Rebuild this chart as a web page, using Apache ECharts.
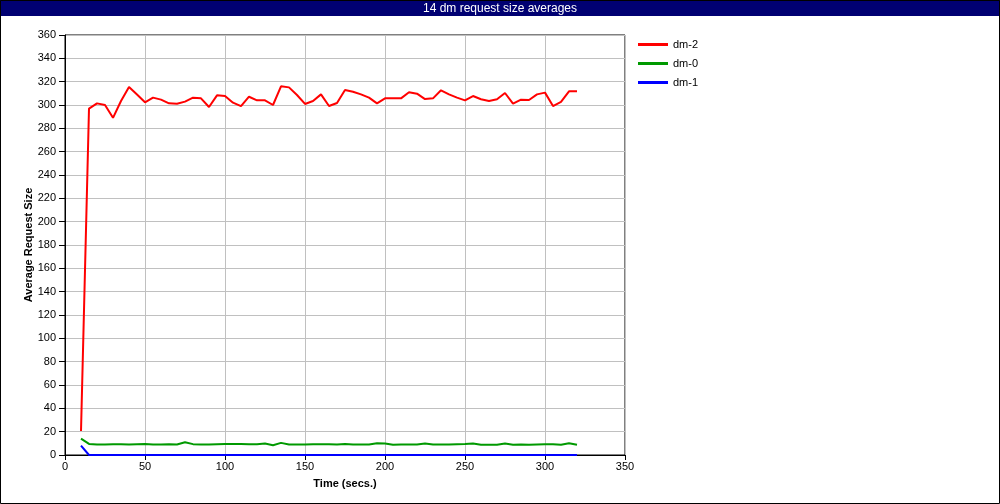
<!DOCTYPE html>
<html>
<head>
<meta charset="utf-8">
<script src="https://cdn.jsdelivr.net/npm/echarts@6/dist/echarts.min.js"></script>
<style>
html,body{margin:0;padding:0;background:#fff;}
#c{width:1000px;height:504px;}
</style>
</head>
<body>
<div id="c"></div>
<script>
var titleText = "14 dm request size averages";
var xName = "Time (secs.)";
var yName = "Average Request Size";
var seriesNames = ["dm-2", "dm-0", "dm-1"];
var times = [10,15,20,25,30,35,40,45,50,55,60,65,70,75,80,85,90,95,100,105,110,115,120,125,130,135,140,145,150,155,160,165,170,175,180,185,190,195,200,205,210,215,220,225,230,235,240,245,250,255,260,265,270,275,280,285,290,295,300,305,310,315,320];
var dm2 = [20.5,296.9,301.4,300,289,303.4,315.4,309,302.3,306.3,304.6,301.4,301,302.9,306.3,305.7,298.3,308.3,307.7,302,299.1,307.1,304,304,300,316,315.1,308.6,300.9,303.4,309.1,299.1,301.7,312.9,311.4,309.1,306.3,301.4,305.7,305.7,305.7,310.9,309.7,305.1,305.7,312.6,309.1,306.3,304,307.7,304.9,303.4,304.9,310.3,301.1,304.6,304.3,309.1,310.6,299.1,302.6,311.7,311.7];
var dm0 = [14,9.5,9,9,9.3,9.3,9,9.3,9.5,9,9,9.3,9,11,9.3,9,9,9.3,9.5,9.5,9.5,9.3,9.3,9.8,8.4,10.4,9,9,9,9.3,9.3,9.3,9,9.5,9,9,9,10,9.8,8.7,9,9,9,9.8,9,9,9,9.3,9.5,9.8,8.7,8.7,8.7,9.8,8.7,9,8.7,9,9.3,9.3,8.7,10,8.7];
var dm1 = [8,0,0,0,0,0,0,0,0,0,0,0,0,0,0,0,0,0,0,0,0,0,0,0,0,0,0,0,0,0,0,0,0,0,0,0,0,0,0,0,0,0,0,0,0,0,0,0,0,0,0,0,0,0,0,0,0,0,0,0,0,0,0];
var colors = ["#ff0000", "#009900", "#0000ff"];

function pairs(xs, ys){ return xs.map(function(x,i){ return [x, ys[i]]; }); }

var font = "'Liberation Sans', Arial, sans-serif";
var chart = echarts.init(document.getElementById('c'), null, {renderer:'canvas'});
chart.setOption({
  animation:false,
  backgroundColor:'#fff',
  textStyle:{fontFamily:font},
  graphic:[
    {type:'rect', shape:{x:0,y:0,width:1000,height:16}, style:{fill:'#000072'}, z:0},
    {type:'rect', shape:{x:0.5,y:0.5,width:999,height:503}, style:{fill:null, stroke:'#000', lineWidth:1}, z:100}
  ],
  title:{
    text:titleText, left:'center', top:3, padding:0,
    textStyle:{color:'#fff', fontSize:12, fontWeight:'normal', fontFamily:font}
  },
  legend:{
    orient:'vertical', left:638, top:39, padding:0, itemWidth:30, itemHeight:3, itemGap:8,
    icon:'rect',
    textStyle:{fontSize:11, color:'#000', fontFamily:font},
    data:seriesNames
  },
  grid:{left:65, right:375, top:35, bottom:49, show:true, borderColor:'#000', borderWidth:1, backgroundColor:'#fff'},
  xAxis:{
    type:'value', min:0, max:350, interval:50,
    name:xName, nameLocation:'middle', nameGap:23,
    nameTextStyle:{fontWeight:'bold', fontSize:11, color:'#000'},
    axisLine:{lineStyle:{color:'#000'}},
    axisTick:{show:true, length:5, lineStyle:{color:'#000'}},
    axisLabel:{color:'#000', fontSize:11, margin:6},
    splitLine:{show:true, lineStyle:{color:'#c0c0c0', width:1}}
  },
  yAxis:{
    type:'value', min:0, max:360, interval:20,
    name:yName, nameLocation:'middle', nameGap:31, nameMoveOverlap:false,
    nameTextStyle:{fontWeight:'bold', fontSize:11, color:'#000'},
    axisLine:{show:true, lineStyle:{color:'#000'}},
    axisTick:{show:true, length:6, lineStyle:{color:'#000'}},
    axisLabel:{color:'#000', fontSize:11, margin:9},
    splitLine:{show:true, lineStyle:{color:'#c0c0c0', width:1}}
  },
  series:[
    {name:seriesNames[0], type:'line', data:pairs(times, dm2), symbol:'none', lineStyle:{color:colors[0], width:2}, itemStyle:{color:colors[0]}},
    {name:seriesNames[1], type:'line', data:pairs(times, dm0), symbol:'none', lineStyle:{color:colors[1], width:2}, itemStyle:{color:colors[1]}},
    {name:seriesNames[2], type:'line', data:pairs(times, dm1), symbol:'none', lineStyle:{color:colors[2], width:2}, itemStyle:{color:colors[2]}}
  ]
});
</script>
</body>
</html>
